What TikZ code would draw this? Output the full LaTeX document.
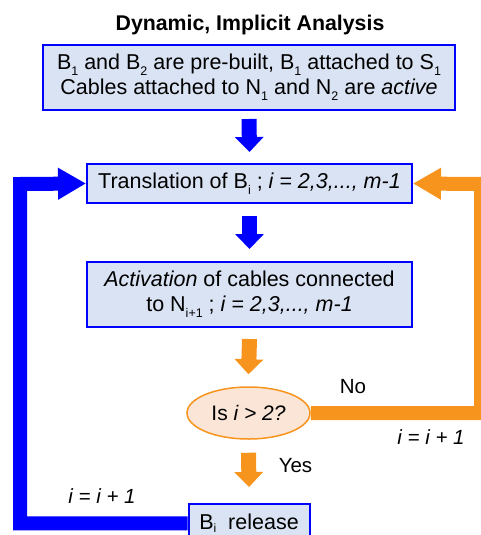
\documentclass[tikz,border=0pt]{standalone}
\usepackage{fontspec}
\setmainfont{Liberation Sans}
\usetikzlibrary{arrows.meta,shapes.geometric}
\definecolor{boxfill}{HTML}{DAE3F3}
\definecolor{boxline}{HTML}{0000FF}
\definecolor{loopblue}{HTML}{0000FF}
\definecolor{orng}{HTML}{F7941D}
\definecolor{ellfill}{HTML}{FBE5D6}
\newcommand\sbs[1]{\raisebox{-6pt}{\fontsize{12.5}{12.5}\selectfont #1}}
\newcommand\sbslow[1]{\raisebox{-3.5pt}{\fontsize{12}{12}\selectfont #1}}
\tikzset{
  stepbox/.style={draw=boxline, line width=2pt, fill=boxfill, align=center,
    inner sep=0pt, font=\fontsize{21.5}{25}\selectfont},
  decision/.style={ellipse, draw=orng, line width=1.5pt, fill=ellfill,
    inner sep=0pt, font=\fontsize{21}{25}\selectfont},
  lbl/.style={inner sep=0pt, font=\fontsize{20.5}{24}\selectfont},
  downarrow/.style={line width=15pt, line cap=butt,
    -{Triangle[width=28pt,length=15pt]}},
  looparrow/.style={line width=14pt, line cap=butt, line join=miter,
    -{Triangle[width=30pt,length=28pt]}},
}
\begin{document}
\begin{tikzpicture}[x=1pt,y=-1pt]
\useasboundingbox (0,0) rectangle (480,535);
\node[lbl, font=\fontsize{21.3}{24}\selectfont\bfseries, anchor=base] (title) at (250,31) {Dynamic, Implicit Analysis};
\node[stepbox, minimum width=412pt, minimum height=65pt] (b1) at (249,77.5)
  {B\sbs{1} and B\sbs{2} are pre-built, B\sbs{1} attached to S\sbs{1}\\
   Cables attached to N\sbs{1} and N\sbs{2} are \textit{active}};
\node[stepbox, minimum width=325pt, minimum height=39pt] (b2) at (249.5,183.5)
  {Translation of B\sbs{i} ; \textit{i = 2,3,..., m-1}};
\node[stepbox, minimum width=325pt, minimum height=65pt] (b3) at (249.5,294.5)
  {\textit{Activation} of cables connected\\ to N\sbs{i+1} ; \textit{i = 2,3,..., m-1}};
\node[decision, minimum width=123pt, minimum height=52pt] (d) at (248.5,413)
  {Is \textit{i > 2?}};
\node[stepbox, minimum width=121pt, minimum height=40pt, text height=15.5pt,
  text depth=5pt, anchor=north] (b4) at (249,503)
  {B\sbslow{i}\ \ release};
% labels
\node[lbl] (no) at (353,387) {No};
\node[lbl] (inc1) at (431,437) {\textit{i = i + 1}};
\node[lbl] (yes) at (295.5,465.5) {Yes};
\node[lbl] (inc2) at (102,496) {\textit{i = i + 1}};
% down arrows
\draw[downarrow, loopblue] ([yshift=-8pt]b1.south) -- ([yshift=11pt]b2.north);
\draw[downarrow, loopblue] ([yshift=-12pt]b2.south) -- ([yshift=12pt]b3.north);
\draw[downarrow, orng] ([yshift=-11pt]b3.south) -- ([yshift=12pt]d.north);
\draw[downarrow, orng] ([yshift=-13pt]d.south) -- ([yshift=16pt]b4.north);
% loops
\coordinate (lt) at (20,184);
\coordinate (rt) at (481,184);
\draw[looparrow, loopblue] ([yshift=6pt]b4.base west) -| (lt) -- (b2.west);
\draw[looparrow, orng] (d.east) -| (rt) -- (b2.east);
\end{tikzpicture}
\end{document}
